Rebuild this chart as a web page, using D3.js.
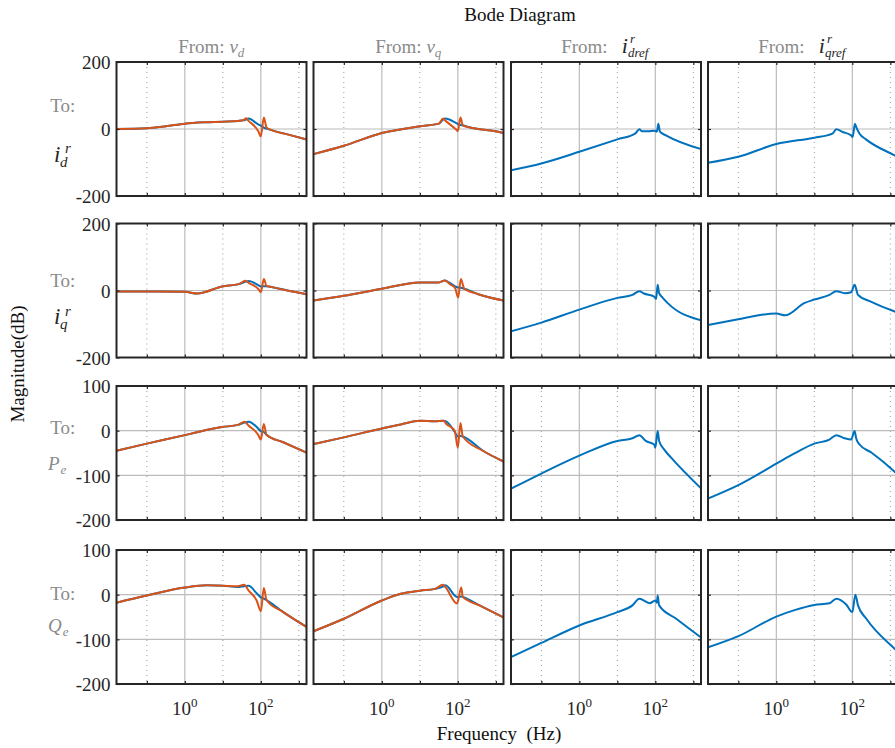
<!DOCTYPE html>
<html><head><meta charset="utf-8">
<script src="https://cdn.jsdelivr.net/npm/d3@7"></script>
<style>
body{margin:0;background:#fff}
svg{display:block}
text{font-family:"Liberation Serif","Times New Roman",serif}
</style>
</head><body>
<svg id="c" width="895" height="748"></svg>
<script>
// ---------- data ----------
const freqRange = [0.1 / (2 * Math.PI), 1e4 / (2 * Math.PI)]; // Hz
const xTickValues = [0.1, 1, 10, 100, 1000];
const xLabelTicks = [1, 100];
const xLabelExponents = ["0", "2"];
const xGridSolid = [1, 100];
const xGridDotted = [0.1, 10, 1000];
const yDomains = [[-200, 200], [-200, 200], [-200, 100], [-200, 100]];
const yTicks = [[-200, 0, 200], [-200, 0, 200], [-200, -100, 0, 100], [-200, -100, 0, 100]];
const yGrid = [[0], [0], [0, -100], [0, -100]];
const inputNames = ["v_d", "v_q", "i_dref", "i_qref"];
const outputNames = ["i_d", "i_q", "P_e", "Q_e"];

// row 1 : to i_d
const f11 = [0.0159, 0.1, 0.316, 1, 3.16, 10, 25, 35.5, 40.7, 46.8, 85.1, 100, 120, 141, 200, 501, 1592];
const blue11 = [0, 2, 8, 16, 20, 22, 24, 26, 28, 31, 14, 10, 4, 1, -4, -16, -31];
const orange11 = [0, 2, 8, 16, 20, 22, 24, 27, 32, 25, -6, -22, 34, 5, -4, -16, -31];
const f12 = [0.0159, 0.1, 1, 10, 31.6, 40.7, 46.8, 89.1, 100, 117.5, 135, 200, 1000, 1592];
const blue12 = [-75, -50, -12, 8, 16, 28, 31, 18, 15, 12, 11, 5, -7, -12];
const orange12 = [-75, -50, -12, 8, 16, 31, 25, -1, -6, 34, 11, 5, -7, -12];
const f13 = [0.0159, 0.1, 1, 10, 30, 38, 45, 63, 95, 110, 120, 132, 190, 1592];
const blue13 = [-123, -103, -68, -31, -13, -1, -7, -7, -5, -8, 16, -8, -19, -60];
const f14 = [0.0159, 0.1, 1, 10, 30, 37.8, 56, 93, 102, 117, 126, 155, 229, 1259, 1592];
const blue14 = [-101, -83, -45, -26, -14, -1, -9, -19, -24, 16, 6, -14, -31, -78, -84];

// row 2 : to i_q
const f21 = [0.0159, 0.1, 1, 2.14, 9.5, 26.3, 38.9, 47.9, 85, 100, 120, 141, 200, 501, 1592];
const blue21 = [-3, -3, -4, -9, 12, 19, 26, 28, 16, 12, 13, 13, 10, 0, -11];
const orange21 = [-3, -3, -4, -9, 12, 19, 29, 23, 5, -5, 34, 14, 10, 0, -11];
const f22 = [0.0159, 0.1, 1, 10, 31.6, 45.7, 63, 85, 102, 120, 148, 347, 1592];
const blue22 = [-30, -16, 5, 24, 24, 30, 22, 12, 9, 8, 5, -11, -30];
const orange22 = [-30, -16, 5, 24, 24, 30, 18, 7, -21, 34, 5, -11, -30];
const f23 = [0.0159, 0.1, 1, 10, 25, 38, 50, 93, 105, 115, 126, 155, 209, 1592];
const blue23 = [-122, -96, -57, -22, -13, -2, -9, -18, -25, 17, -8, -21, -37, -89];
const f24 = [0.0159, 0.1, 0.34, 1, 1.7, 5.6, 10, 25, 38, 63, 93, 115, 141, 316, 1259, 1592];
const blue24 = [-103, -86, -74, -69, -74, -37, -27, -13, -2, -8, -5, 17, -13, -34, -62, -66];

// row 3 : to P_e
const f31 = [0.0159, 0.1, 1, 2.24, 9.5, 25, 37.2, 47.9, 85, 100, 120, 141, 389, 1592];
const blue31 = [-45, -29, -10, -3, 8, 13, 18, 20, 5, -1, -3, -9, -26, -49];
const orange31 = [-45, -29, -10, -3, 8, 13, 20, 11, -9, -20, 15, -9, -26, -49];
const f32 = [0.0159, 0.1, 1, 3.16, 10, 25, 41.7, 50, 83, 100, 117.5, 135, 457, 1592];
const blue32 = [-30, -15, 5, 14, 22, 21, 22, 20, -3, -13, -12, -13, -45, -69];
const orange32 = [-30, -15, 5, 14, 22, 21, 22, 15, -1, -38, 17, -13, -45, -69];
const f33 = [0.0159, 0.1, 1, 10, 25, 38, 56, 93, 100, 115, 126, 170, 257, 1592];
const blue33 = [-130, -96, -56, -23, -17, -10, -23, -31, -38, -1, -23, -42, -60, -129];
const f34 = [0.0159, 0.1, 1, 3, 10, 25, 38, 63, 93, 115, 126, 155, 316, 1259, 1592];
const blue34 = [-152, -122, -74, -51, -29, -20, -10, -17, -20, -1, -17, -31, -49, -91, -99];

// row 4 : to Q_e
const f41 = [0.0159, 0.1, 1, 3.8, 10, 25, 36.3, 47.9, 77.6, 100, 120, 141, 389, 1592];
const blue41 = [-18, -2, 16, 21, 20, 17, 19, 20, 3, -6, -9, -12, -39, -72];
const orange41 = [-18, -2, 16, 21, 20, 19, 22, 9, -13, -37, 15, -12, -39, -72];
const f42 = [0.0159, 0.1, 1, 3.16, 10, 25, 40.7, 47, 95.5, 123, 135, 372, 1592];
const blue42 = [-82, -54, -13, 2, 9, 13, 18, 21, -5, -4, -5, -24, -51];
const orange42 = [-82, -54, -13, 2, 9, 13, 22, 17, -20, 16, -5, -24, -51];
const f43 = [0.0159, 0.1, 1, 10, 25, 38, 70.8, 100, 110, 115, 126, 355, 1592];
const blue43 = [-140, -108, -69, -39, -24, -9, -19, -13, -18, -2, -24, -54, -96];
const f44 = [0.0159, 0.1, 1, 3.16, 10, 25, 38, 69, 100, 120, 141, 234, 1259, 1592];
const blue44 = [-118, -93, -49, -34, -23, -19, -9, -22, -39, 0, -24, -54, -120, -128];

const panelData = [
  [[f11, blue11, orange11], [f12, blue12, orange12], [f13, blue13, null], [f14, blue14, null]],
  [[f21, blue21, orange21], [f22, blue22, orange22], [f23, blue23, null], [f24, blue24, null]],
  [[f31, blue31, orange31], [f32, blue32, orange32], [f33, blue33, null], [f34, blue34, null]],
  [[f41, blue41, orange41], [f42, blue42, orange42], [f43, blue43, null], [f44, blue44, null]]
];

// ---------- layout / style ----------
const colLeft = [116.5, 313.5, 511, 708];
const colW = 190;
const rowTop = [62, 223.5, 386, 550];
const rowH = 134;
const BLUE = "#0072BD", ORANGE = "#D95319";
const AX = "#262626", GRAY = "#8a8a8a", GRID = "#bcbcbc";

const svg = d3.select("#c");
const defs = svg.append("defs");

for (let r = 0; r < 4; r++) {
  for (let c = 0; c < 4; c++) {
    const x = d3.scaleLog().domain(freqRange).range([colLeft[c], colLeft[c] + colW]);
    const y = d3.scaleLinear().domain(yDomains[r]).range([rowTop[r] + rowH, rowTop[r]]);
    const g = svg.append("g");
    const id = "clip" + r + c;
    defs.append("clipPath").attr("id", id).append("rect")
      .attr("x", colLeft[c]).attr("y", rowTop[r]).attr("width", colW).attr("height", rowH);

    // grid
    g.selectAll("line.gs").data(xGridSolid).join("line")
      .attr("x1", d => x(d)).attr("x2", d => x(d))
      .attr("y1", rowTop[r]).attr("y2", rowTop[r] + rowH)
      .attr("stroke", GRID).attr("stroke-width", 1.2);
    g.selectAll("line.gd").data(xGridDotted).join("line")
      .attr("x1", d => x(d)).attr("x2", d => x(d))
      .attr("y1", rowTop[r]).attr("y2", rowTop[r] + rowH)
      .attr("stroke", "#9a9a9a").attr("stroke-width", 1).attr("stroke-dasharray", "1,4");
    g.selectAll("line.hy").data(yGrid[r]).join("line")
      .attr("x1", colLeft[c]).attr("x2", colLeft[c] + colW)
      .attr("y1", d => y(d)).attr("y2", d => y(d))
      .attr("stroke", GRID).attr("stroke-width", 1.2);

    // curves
    const line = d3.line().curve(d3.curveMonotoneX).x(d => x(d[0])).y(d => y(d[1]));
    const [fr, bv, ov] = panelData[r][c];
    const cg = g.append("g").attr("clip-path", `url(#${id})`);
    cg.append("path").datum(d3.zip(fr, bv)).attr("d", line)
      .attr("fill", "none").attr("stroke", BLUE).attr("stroke-width", 2).attr("stroke-linejoin", "round");
    if (ov) {
      cg.append("path").datum(d3.zip(fr, ov)).attr("d", line)
        .attr("fill", "none").attr("stroke", ORANGE).attr("stroke-width", 2).attr("stroke-linejoin", "round");
    }

    // ticks (inward)
    const axB = d3.axisBottom(x).tickValues(xTickValues).tickSize(-3).tickFormat("");
    const axT = d3.axisTop(x).tickValues(xTickValues).tickSize(-3).tickFormat("");
    const axL = d3.axisLeft(y).tickValues(yTicks[r]).tickSize(-3).tickPadding(6)
      .tickFormat(c === 0 ? (d => String(d)) : "");
    const axR = d3.axisRight(y).tickValues(yTicks[r]).tickSize(-3).tickFormat("");
    [[axB, `translate(0,${rowTop[r] + rowH})`], [axT, `translate(0,${rowTop[r]})`],
     [axL, `translate(${colLeft[c]},0)`], [axR, `translate(${colLeft[c] + colW},0)`]].forEach(([ax, tr]) => {
      const a = g.append("g").attr("transform", tr).call(ax);
      a.select(".domain").remove();
      a.selectAll("line").attr("stroke", AX).attr("stroke-width", 1.2);
      a.selectAll("text").attr("font-size", 19).attr("fill", AX)
        .attr("font-family", '"Liberation Serif","Times New Roman",serif').attr("dy", "0.36em");
    });

    // frame
    g.append("rect").attr("x", colLeft[c]).attr("y", rowTop[r]).attr("width", colW).attr("height", rowH)
      .attr("fill", "none").attr("stroke", AX).attr("stroke-width", 2);

    // x tick labels on bottom row
    if (r === 3) {
      xLabelTicks.forEach((v, i) => {
        const t = g.append("text").attr("x", x(v)).attr("y", 715).attr("text-anchor", "middle")
          .attr("font-size", 19).attr("fill", AX);
        t.append("tspan").text("10");
        t.append("tspan").attr("font-size", 13).attr("dy", -8).text(xLabelExponents[i]);
      });
    }
  }
}

// ---------- titles ----------
svg.append("text").attr("x", 520).attr("y", 21).attr("text-anchor", "middle")
  .attr("font-size", 19).attr("fill", "#111").text("Bode Diagram");

svg.append("text").attr("x", 499).attr("y", 740).attr("text-anchor", "middle")
  .attr("font-size", 19).attr("fill", "#111").attr("xml:space", "preserve")
  .style("white-space", "pre").text("Frequency  (Hz)");

svg.append("text").attr("transform", "translate(24,364) rotate(-90)").attr("text-anchor", "middle")
  .attr("font-size", 19).attr("fill", "#111").text("Magnitude(dB)");

// column titles
inputNames.forEach((name, c) => {
  const [base, sub] = name.split("_");
  const g = svg.append("g");
  const t = g.append("text").attr("x", 0).attr("y", 53).attr("font-size", 19).attr("fill", GRAY)
    .style("white-space", "pre");
  if (c < 2) {
    t.append("tspan").text("From: ");
    t.append("tspan").attr("font-style", "italic").text(base);
    t.append("tspan").attr("font-style", "italic").attr("font-size", 13).attr("dy", 4).text(sub);
  } else {
    t.text("From:   ");
    const w0 = t.node().getComputedTextLength();
    const ti = g.append("text").attr("x", w0).attr("y", 53).attr("font-size", 22)
      .attr("font-style", "italic").attr("fill", AX).text(base);
    const wi = ti.node().getComputedTextLength();
    g.append("text").attr("x", w0 + wi + 2).attr("y", 42.5).attr("font-size", 13)
      .attr("font-style", "italic").attr("fill", AX).text("r");
    g.append("text").attr("x", w0 + wi).attr("y", 56.5).attr("font-size", 13)
      .attr("font-style", "italic").attr("fill", AX).text(sub);
  }
  const bb = g.node().getBBox();
  const cx = colLeft[c] + colW / 2;
  g.attr("transform", `translate(${cx - bb.width / 2},0)`);
});

// row labels
const toBase = [111.7, 287.3, 434, 600];
const outBase = [161.7, 324, 470, 631.7];
outputNames.forEach((name, r) => {
  const [base, sub] = name.split("_");
  svg.append("text").attr("x", 62.7).attr("y", toBase[r]).attr("text-anchor", "middle")
    .attr("font-size", 19).attr("fill", GRAY).text("To:");
  if (r < 2) {
    const x0 = 54;
    svg.append("text").attr("x", x0).attr("y", outBase[r]).attr("font-size", 23)
      .attr("font-style", "italic").attr("fill", AX).text(base);
    svg.append("text").attr("x", x0 + 11).attr("y", outBase[r] - 8.5).attr("font-size", 15)
      .attr("font-style", "italic").attr("fill", AX).text("r");
    svg.append("text").attr("x", x0 + 6).attr("y", outBase[r] + 5).attr("font-size", 15)
      .attr("font-style", "italic").attr("fill", AX).text(sub);
  } else {
    const t = svg.append("text").attr("x", 48).attr("y", outBase[r]).attr("font-size", 19)
      .attr("font-style", "italic").attr("fill", GRAY);
    t.append("tspan").text(base);
    t.append("tspan").attr("font-size", 13).attr("dy", 4).attr("dx", 1).text(sub);
  }
});
</script>
</body></html>
